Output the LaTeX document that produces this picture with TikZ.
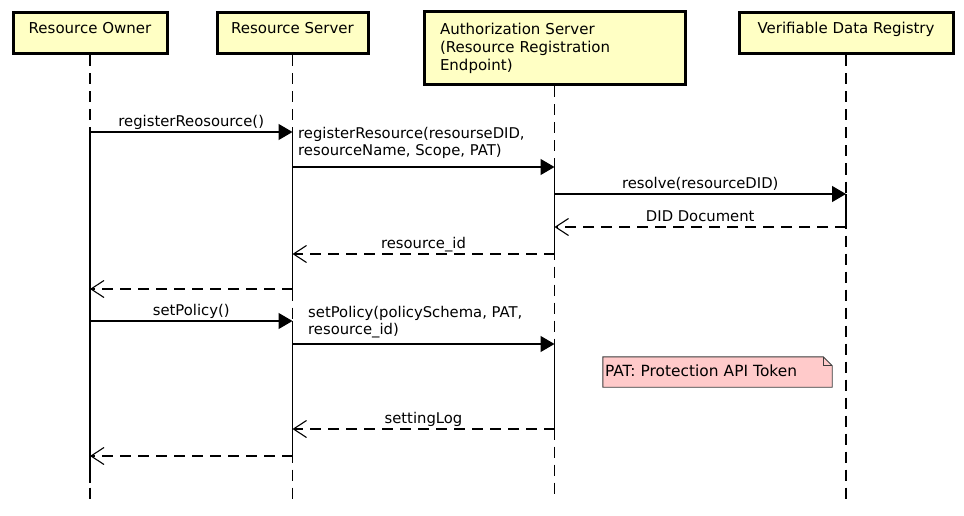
\documentclass[tikz,border=0pt]{standalone}
\usepackage{fontspec}
\setmainfont{DejaVu Sans}
\usetikzlibrary{arrows.meta,backgrounds}
\definecolor{boxfill}{RGB}{255,255,196}
\definecolor{notefill}{RGB}{255,202,202}
\definecolor{noteline}{RGB}{60,60,60}
\begin{document}
\begin{tikzpicture}[x=1pt,y=-1pt,
  font=\fontsize{14.8}{17.5}\selectfont,
  actorbox/.style={draw=black, line width=3pt, fill=boxfill, inner sep=0pt, font=\fontsize{15}{18}\selectfont},
  lifeline/.style={line width=1.1pt, dash pattern=on 11pt off 7pt},
  actline/.style={line width=1.2pt},
  msg/.style={line width=1.2pt, -{Triangle[length=14pt,width=16pt]}},
  ret/.style={line width=1.2pt, dash pattern=on 11pt off 7pt, -{Straight Barb[length=13pt,width=17pt,line width=1.1pt]}},
  lbl/.style={anchor=base, yshift=5.5pt, inner sep=0pt},
  mlbl/.style={anchor=north west, align=left, inner sep=0pt},
  notebox/.style={inner xsep=2pt, inner ysep=0pt, minimum width=229pt, text width=225pt, align=left, text height=19pt, text depth=11pt, font=\fontsize{15.4}{18}\selectfont},
  noteedge/.style={draw=noteline, line width=0.9pt}
]
\useasboundingbox (0,0) rectangle (964,516);

% participants
\node[actorbox, minimum width=154pt, text height=21pt, text depth=20pt] (ro) at (90,33.5) {Resource Owner};
\node[actorbox, minimum width=151pt, text height=21pt, text depth=20pt] (rs) at (292.5,33.5) {Resource Server};
\node[actorbox, minimum width=261pt, minimum height=73pt, text width=229pt, align=left] (as) at (554.5,48.5) {Authorization Server\\(Resource Registration\\Endpoint)};
\node[actorbox, minimum width=214pt, text height=21pt, text depth=20pt] (vd) at (846,33.5) {Verifiable Data Registry};

% lifeline ends
\coordinate (roE) at (90,500);
\coordinate (rsE) at (292.5,500);
\coordinate (asE) at (554.5,500);
\coordinate (vdE) at (846,500);

\draw[lifeline] (ro.south) -- (roE);
\draw[lifeline] (rs.south) -- (rsE);
\draw[lifeline] (as.south) -- (asE);
\draw[lifeline] (vd.south) -- (vdE);

% message points
\coordinate (ro1) at (90,132);
\coordinate (rs1) at (292.5,132);
\coordinate (rs2) at (292.5,167);
\coordinate (as2) at (554.5,167);
\coordinate (as3) at (554.5,194);
\coordinate (vd3) at (846,194);
\coordinate (vd4) at (846,227);
\coordinate (as4) at (554.5,227);
\coordinate (as5) at (554.5,254);
\coordinate (rs5) at (292.5,254);
\coordinate (rs6) at (292.5,289);
\coordinate (ro6) at (90,289);
\coordinate (ro7) at (90,321);
\coordinate (rs7) at (292.5,321);
\coordinate (rs8) at (292.5,344);
\coordinate (as8) at (554.5,344);
\coordinate (as9) at (554.5,429);
\coordinate (rs9) at (292.5,429);
\coordinate (rs10) at (292.5,456);
\coordinate (ro10) at (90,456);
\coordinate (roA) at (90,483);

% activations
\draw[actline] (ro1) -- (roA);
\draw[actline] (rs1) -- (rs6);
\draw[actline] (rs7) -- (rs10);
\draw[actline] (as2) -- (as5);
\draw[actline] (as8) -- (as9);
\draw[actline] (vd3) -- (vd4);

% messages
\draw[msg] (ro1) -- node[lbl] (m1) {registerReosource()} (rs1);
\draw[msg] (rs2) -- (as2);
\node[mlbl] (m2) at (298,127) {registerResource(resourseDID,\\resourceName, Scope, PAT)};
\draw[msg] (as3) -- node[lbl] (m3) {resolve(resourceDID)} (vd3);
\draw[ret] (vd4) -- node[lbl] (m4) {DID Document} (as4);
\draw[ret] (as5) -- node[lbl] (m5) {resource\_id} (rs5);
\draw[ret] (rs6) -- (ro6);
\draw[msg] (ro7) -- node[lbl] (m7) {setPolicy()} (rs7);
\draw[msg] (rs8) -- (as8);
\node[mlbl] (m8) at (308,306) {setPolicy(policySchema, PAT,\\resource\_id)};
\draw[ret] (as9) -- node[lbl] (m9) {settingLog} (rs9);
\draw[ret] (rs10) -- (ro10);

% note
\node[notebox] (pat) at (717.5,372) {PAT: Protection API Token};
\begin{scope}[on background layer]
\path[noteedge, fill=notefill] (pat.north west) -- ([xshift=-9pt]pat.north east) -- ([yshift=-9pt]pat.north east) -- (pat.south east) -- (pat.south west) -- cycle;
\end{scope}
\draw[noteedge] ([xshift=-9pt]pat.north east) -- ([xshift=-9pt,yshift=-9pt]pat.north east) -- ([yshift=-9pt]pat.north east);
\end{tikzpicture}
\end{document}
